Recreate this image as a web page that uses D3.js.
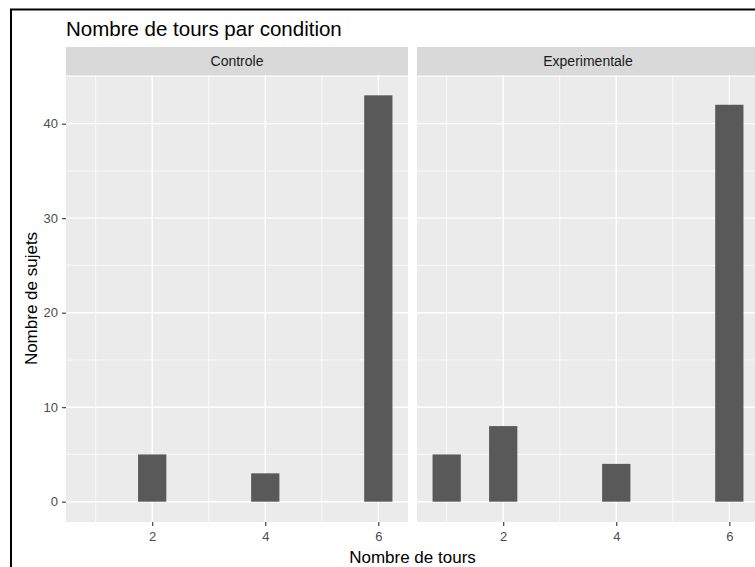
<!DOCTYPE html>
<html>
<head>
<meta charset="utf-8">
<script src="https://cdn.jsdelivr.net/npm/d3@7"></script>
<style>
  html, body { margin: 0; padding: 0; background: #fff; }
  svg { display: block; font-family: "Liberation Sans", Arial, sans-serif; }
</style>
</head>
<body>
<svg id="chart" width="755" height="567"></svg>
<script>
// Number of laps completed, per condition
const conditions = ["Controle", "Experimentale"];
const toursControle = [2, 4, 6];
const sujetsControle = [5, 3, 43];
const toursExperimentale = [1, 2, 4, 6];
const sujetsExperimentale = [5, 8, 4, 42];
const xTicks = [2, 4, 6];
const xMinor = [1, 3, 5];
const yTicks = [0, 10, 20, 30, 40];
const yMinor = [5, 15, 25, 35, 45];

const panelsData = [
  { name: conditions[0], tours: toursControle, sujets: sujetsControle },
  { name: conditions[1], tours: toursExperimentale, sujets: sujetsExperimentale }
];

const svg = d3.select("#chart");
const fontFamily = "Liberation Sans, Arial, sans-serif";

// frame around the figure
svg.append("rect")
  .attr("x", 11).attr("y", 9.5)
  .attr("width", 760).attr("height", 580)
  .attr("fill", "#fff").attr("stroke", "#000").attr("stroke-width", 2);

const panelTop = 75, panelBottom = 522;
const stripTop = 47;
const panelWidth = 342, panelGap = 9, firstLeft = 66;
const barWidth = 0.5;

const y = d3.scaleLinear().domain([-2.15, 45.15]).range([panelBottom, panelTop]);

// title
svg.append("text")
  .attr("x", firstLeft).attr("y", 36)
  .attr("font-size", 20.5).attr("fill", "#000")
  .text("Nombre de tours par condition");

panelsData.forEach((p, i) => {
  const left = firstLeft + i * (panelWidth + panelGap);
  const x = d3.scaleLinear().domain([0.475, 6.525]).range([left, left + panelWidth]);

  const g = svg.append("g");

  // strip
  g.append("rect")
    .attr("x", left).attr("y", stripTop)
    .attr("width", panelWidth).attr("height", panelTop - stripTop)
    .attr("fill", "#D9D9D9");
  g.append("text")
    .attr("x", left + panelWidth / 2).attr("y", (stripTop + panelTop) / 2)
    .attr("dy", "0.35em").attr("text-anchor", "middle")
    .attr("font-size", 14).attr("fill", "#1A1A1A")
    .text(p.name);

  // panel background
  g.append("rect")
    .attr("x", left).attr("y", panelTop)
    .attr("width", panelWidth).attr("height", panelBottom - panelTop)
    .attr("fill", "#EBEBEB");

  // minor grid
  g.selectAll(".hminor").data(yMinor.filter(v => y(v) >= panelTop)).join("line")
    .attr("x1", left).attr("x2", left + panelWidth)
    .attr("y1", d => y(d)).attr("y2", d => y(d))
    .attr("stroke", "#fff").attr("stroke-width", 0.7);
  g.selectAll(".vminor").data(xMinor).join("line")
    .attr("x1", d => x(d)).attr("x2", d => x(d))
    .attr("y1", panelTop).attr("y2", panelBottom)
    .attr("stroke", "#fff").attr("stroke-width", 0.7);
  // major grid
  g.selectAll(".hmajor").data(yTicks).join("line")
    .attr("x1", left).attr("x2", left + panelWidth)
    .attr("y1", d => y(d)).attr("y2", d => y(d))
    .attr("stroke", "#fff").attr("stroke-width", 1.4);
  g.selectAll(".vmajor").data(xTicks).join("line")
    .attr("x1", d => x(d)).attr("x2", d => x(d))
    .attr("y1", panelTop).attr("y2", panelBottom)
    .attr("stroke", "#fff").attr("stroke-width", 1.4);

  // bars
  g.selectAll(".bar").data(p.tours.map((t, k) => ({ t, n: p.sujets[k] }))).join("rect")
    .attr("x", d => x(d.t - barWidth / 2))
    .attr("width", d => x(d.t + barWidth / 2) - x(d.t - barWidth / 2))
    .attr("y", d => y(d.n))
    .attr("height", d => y(0) - y(d.n))
    .attr("fill", "#595959");

  // x axis
  const xa = svg.append("g")
    .attr("transform", `translate(0,${panelBottom})`)
    .call(d3.axisBottom(x).tickValues(xTicks).tickFormat(d3.format("d")).tickSize(4).tickPadding(6));
  xa.select(".domain").remove();
  xa.selectAll("line").attr("stroke", "#333").attr("stroke-width", 1.1);
  xa.selectAll("text").attr("fill", "#4D4D4D").attr("font-size", 13)
    .attr("font-family", fontFamily);

  if (i === 0) {
    const ya = svg.append("g")
      .attr("transform", `translate(${left},0)`)
      .call(d3.axisLeft(y).tickValues(yTicks).tickFormat(d3.format("d")).tickSize(4).tickPadding(4));
    ya.select(".domain").remove();
    ya.selectAll("line").attr("stroke", "#333").attr("stroke-width", 1.1);
    ya.selectAll("text").attr("fill", "#4D4D4D").attr("font-size", 13)
      .attr("font-family", fontFamily);
  }
});

// axis titles
svg.append("text")
  .attr("x", firstLeft + (2 * panelWidth + panelGap) / 2).attr("y", 563)
  .attr("text-anchor", "middle").attr("font-size", 17).attr("fill", "#000")
  .text("Nombre de tours");

svg.append("text")
  .attr("transform", `translate(37,${(panelTop + panelBottom) / 2}) rotate(-90)`)
  .attr("text-anchor", "middle").attr("font-size", 17).attr("fill", "#000")
  .text("Nombre de sujets");
</script>
</body>
</html>
